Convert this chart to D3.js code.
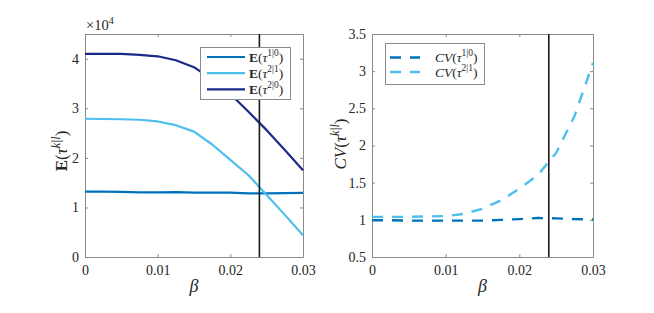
<!DOCTYPE html>
<html>
<head>
<meta charset="utf-8">
<script src="https://cdn.jsdelivr.net/npm/d3@7"></script>
<style>
body { margin: 0; background: #fff; }
svg text { font-family: "Liberation Serif", "DejaVu Serif", serif !important; }
</style>
</head>
<body>
<div id="chart"></div>
<script>
// beta grid (x values), shared by both panels
const beta = [0, 0.0025, 0.005, 0.0075, 0.01, 0.0125, 0.015, 0.0175, 0.02, 0.0225, 0.025, 0.0275, 0.03];

// left panel: mean first passage times
const meanT10 = [13200, 13200, 13150, 13050, 13050, 13100, 13000, 13000, 13000, 12850, 12850, 12900, 12950];
const meanT21 = [27900, 27850, 27800, 27700, 27350, 26600, 25300, 22700, 19600, 16500, 12500, 8500, 4400];
const meanT20 = [41000, 41000, 41000, 40800, 40500, 39700, 38300, 35800, 32900, 29300, 25600, 21600, 17500];

// right panel: coefficients of variation
const cvT10 = [0.995, 0.995, 0.99, 0.99, 0.99, 0.99, 0.99, 1.0, 1.01, 1.025, 1.02, 1.01, 1.005];
const cvT21 = [1.04, 1.04, 1.04, 1.045, 1.05, 1.08, 1.15, 1.26, 1.42, 1.60, 1.90, 2.40, 3.11];

const betaMarker = 0.024;
const xTicks = [0, 0.01, 0.02, 0.03];
const meanTicks = [0, 10000, 20000, 30000, 40000];
const cvTicks = [0.5, 1, 1.5, 2, 2.5, 3, 3.5];

const blue = "#0072BD", lightBlue = "#4DBEEE", navy = "#1A2A8A";
const W = 654, H = 313;
const boxColor = "#8a8a8a", textColor = "#262626";

const svg = d3.select("#chart").append("svg").attr("width", W).attr("height", H)
    .style("display", "block");

// write text made of pieces: [text, {b, i, sup}]
function rich(sel, segs, fs) {
    let raised = false;
    segs.forEach(([t, o]) => {
        o = o || {};
        const ts = sel.append("tspan").text(t);
        if (o.b) ts.attr("font-weight", "bold");
        if (o.i) ts.attr("font-style", "italic");
        if (o.sup && !raised) { ts.attr("dy", -0.42 * fs).attr("font-size", fs * 0.7); raised = true; }
        else if (o.sup) ts.attr("font-size", fs * 0.7);
        else if (raised) { ts.attr("dy", 0.42 * fs); raised = false; }
    });
    return sel;
}

function panel(left, right, yDomain, yTicks, yFmt) {
    const top = 34, bottom = 257;
    const x = d3.scaleLinear().domain([0, 0.03]).range([left, right]);
    const y = d3.scaleLinear().domain(yDomain).range([bottom, top]);
    const g = svg.append("g");

    g.append("rect").attr("x", left).attr("y", top)
        .attr("width", right - left).attr("height", bottom - top).attr("fill", "#fff");

    const ax = (sel) => {
        sel.selectAll(".domain").attr("stroke", boxColor);
        sel.selectAll(".tick line").attr("stroke", boxColor);
        sel.selectAll("text").attr("fill", textColor).attr("font-size", 14);
    };
    g.append("g").attr("transform", `translate(0,${bottom})`)
        .call(d3.axisBottom(x).tickValues(xTicks).tickSize(-3).tickSizeOuter(0).tickPadding(8).tickFormat(d3.format("~g")))
        .call(ax);
    g.append("g").attr("transform", `translate(0,${top})`)
        .call(d3.axisTop(x).tickValues(xTicks).tickSize(-3).tickSizeOuter(0).tickFormat(""))
        .call(ax);
    g.append("g").attr("transform", `translate(${left},0)`)
        .call(d3.axisLeft(y).tickValues(yTicks).tickSize(-3).tickSizeOuter(0).tickPadding(6).tickFormat(yFmt))
        .call(ax);
    g.append("g").attr("transform", `translate(${right},0)`)
        .call(d3.axisRight(y).tickValues(yTicks).tickSize(-3).tickSizeOuter(0).tickFormat(""))
        .call(ax);

    g.append("text").attr("x", (left + right) / 2).attr("y", 292)
        .attr("text-anchor", "middle").attr("font-size", 18).attr("font-style", "italic")
        .attr("fill", textColor).text("β");
    return { g, x, y, top, bottom };
}

// ---- left panel
const L = panel(85, 303, [0, 45000], meanTicks, (d) => d3.format("~g")(d / 1e4));
const lineL = d3.line().x((d, i) => L.x(beta[i])).y((d) => L.y(d));
[[meanT10, blue], [meanT21, lightBlue], [meanT20, navy]].forEach(([s, c]) => {
    L.g.append("path").datum(s).attr("d", lineL).attr("fill", "none")
        .attr("stroke", c).attr("stroke-width", 2.2).attr("stroke-linejoin", "round");
});
L.g.append("line").attr("x1", L.x(betaMarker)).attr("x2", L.x(betaMarker))
    .attr("y1", L.top).attr("y2", L.bottom).attr("stroke", "#1a1a1a").attr("stroke-width", 1.6);

rich(svg.append("text").attr("x", 86).attr("y", 30).attr("font-size", 14.5).attr("fill", textColor),
    [["×10"], ["4", { sup: true }]], 14.5);

rich(svg.append("text").attr("transform", "translate(67,151) rotate(-90)")
    .attr("text-anchor", "middle").attr("font-size", 17).attr("fill", textColor),
    [["E", { b: true }], ["("], ["τ", { i: true }], ["k|l", { sup: true, i: true }], [")"]], 17);

// legend left
const legL = svg.append("g");
legL.append("rect").attr("x", 200.5).attr("y", 47.5).attr("width", 90).attr("height", 52)
    .attr("fill", "#fff").attr("stroke", boxColor);
[["1|0", blue], ["2|1", lightBlue], ["2|0", navy]].forEach(([k, c], i) => {
    const yy = 57 + i * 16.2;
    legL.append("line").attr("x1", 207).attr("x2", 245).attr("y1", yy).attr("y2", yy)
        .attr("stroke", c).attr("stroke-width", 2.2);
    rich(legL.append("text").attr("x", 249).attr("y", yy + 4.5).attr("font-size", 13.5).attr("fill", textColor),
        [["E", { b: true }], ["("], ["τ", { i: true }], [k, { sup: true }], [")"]], 13.5);
});

// ---- right panel
const R = panel(372, 593, [0.5, 3.5], cvTicks, d3.format("~g"));
const lineR = d3.line().x((d, i) => R.x(beta[i])).y((d) => R.y(d));
[[cvT10, blue], [cvT21, lightBlue]].forEach(([s, c]) => {
    R.g.append("path").datum(s).attr("d", lineR).attr("fill", "none")
        .attr("stroke", c).attr("stroke-width", 2.4).attr("stroke-dasharray", "11,9");
});
R.g.append("line").attr("x1", R.x(betaMarker)).attr("x2", R.x(betaMarker))
    .attr("y1", R.top).attr("y2", R.bottom).attr("stroke", "#1a1a1a").attr("stroke-width", 1.6);

rich(svg.append("text").attr("transform", "translate(346,144) rotate(-90)")
    .attr("text-anchor", "middle").attr("font-size", 17).attr("fill", textColor),
    [["CV", { i: true }], ["("], ["τ", { i: true }], ["k|l", { sup: true, i: true }], [")"]], 17);

const legR = svg.append("g");
legR.append("rect").attr("x", 385.5).attr("y", 43.5).attr("width", 99).attr("height", 41)
    .attr("fill", "#fff").attr("stroke", boxColor);
[["1|0", blue], ["2|1", lightBlue]].forEach(([k, c], i) => {
    const yy = 57.5 + i * 14.5;
    legR.append("line").attr("x1", 390).attr("x2", 420).attr("y1", yy).attr("y2", yy)
        .attr("stroke", c).attr("stroke-width", 2.4).attr("stroke-dasharray", "11,9");
    rich(legR.append("text").attr("x", 435).attr("y", yy + 4.5).attr("font-size", 13.5).attr("fill", textColor),
        [["CV", { i: true }], ["("], ["τ", { i: true }], [k, { sup: true }], [")"]], 13.5);
});
</script>
</body>
</html>
